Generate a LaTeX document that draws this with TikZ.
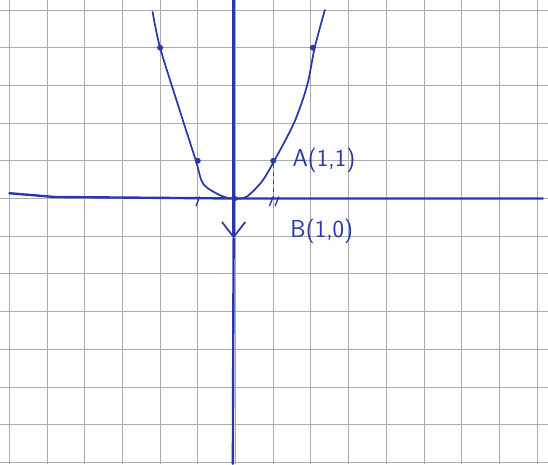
\documentclass[tikz,border=0pt]{standalone}
\usepackage{tikz}
\usetikzlibrary{arrows.meta, positioning}
\usepackage{xcolor}
\definecolor{ink}{RGB}{40,55,170}
\definecolor{paper}{RGB}{172,172,172}

\begin{document}
\begin{tikzpicture}[
    axis/.style={ink, line width=1.8pt, line cap=round},
    curve/.style={ink, line width=1.3pt, line cap=round, line join=round},
    pt/.style={circle, fill=ink, inner sep=0pt, minimum size=4.5pt},
    lbl/.style={ink, inner sep=0pt, font=\sffamily\fontsize{18.5}{22}\selectfont},
    tick/.style={ink, line width=1pt},
]
  \useasboundingbox (-6.247,-7.043) rectangle (8.289,5.265);

  % squared paper
  \draw[paper, line width=0.7pt] (-6.247,-7.043) grid (8.289,5.265);

  \coordinate (xl) at (-6.0, 0.14);
  \coordinate (xm) at (-4.8, 0.04);
  \coordinate (xr) at ( 8.15, 0.0);
  \coordinate (yt) at (-0.05, 5.27);
  \coordinate (ya) at (-0.05,-1.06);
  \coordinate (yb) at (-0.07,-7.04);
  \coordinate (O)  at (0,0);

  \draw[axis] (xl) -- (xm) -- (O) -- (xr);
  \draw[axis, -{Straight Barb[length=0.4cm, width=0.62cm, line width=1.3pt]}] (yt) -- (ya);
  \draw[axis] (ya) -- (yb);

  % parabola
  \draw[curve] plot[smooth, tension=0.5] coordinates {
      (-2.2,4.95) (-2.0,4.0) (-1.5,2.4) (-1.05,1.0) (-0.85,0.38)
      (-0.35,0.06) (0,0) (0.3,0.05) (0.7,0.45) (1.0,0.95)
      (1.55,2.0) (1.9,3.0) (2.1,4.0) (2.37,5.0)};

  \node[pt] (p1) at (-2.0,4.0) {};
  \node[pt] (p2) at (-1.0,1.0) {};
  \node[pt] (ptA) at (1.0,1.0) {};
  \node[pt] (p4) at (2.05,4.0) {};
  \node[pt, minimum size=3.5pt] (ptO) at (O) {};
  \coordinate (ptB) at (1.0,0);

  \draw[tick] (-1.05,-0.2) -- (-0.95,0.05);
  \draw[tick] (0.9,-0.2) -- (1.0,0.05);
  \draw[tick] (1.05,-0.2) -- (1.15,0.05);

  \draw[ink, line width=1pt, dash pattern=on 3pt off 3pt] (ptA) -- (ptB);

  \node[lbl, right=0.42cm of ptA] (lblA) {A(1,1)};
  \node[lbl, anchor=west] (lblB) at (1.45,-0.88) {B(1,0)};

\end{tikzpicture}
\end{document}
